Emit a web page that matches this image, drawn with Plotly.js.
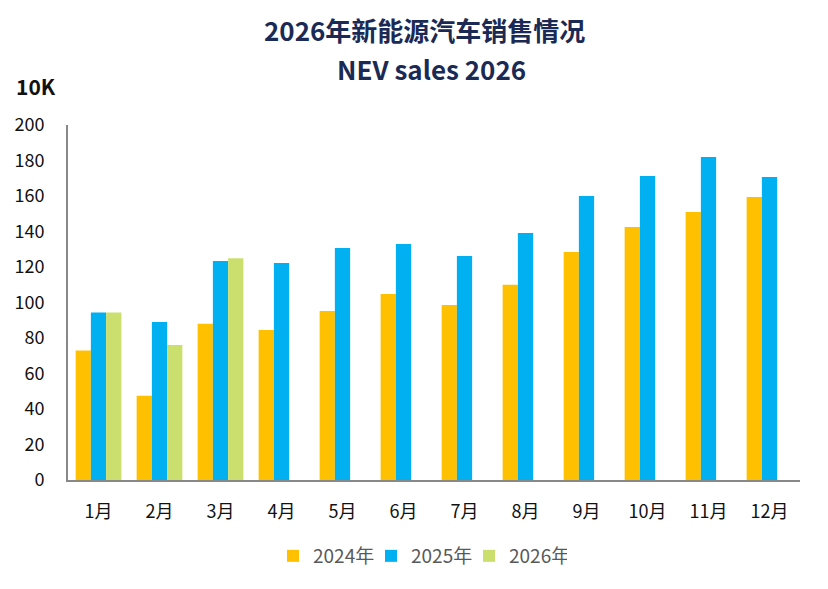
<!DOCTYPE html>
<html>
<head>
<meta charset="utf-8">
<script src="https://cdn.plot.ly/plotly-3.0.1.min.js"></script>
<style>html,body{margin:0;padding:0;background:#fff;}#chart{width:828px;height:589px;}</style>
</head>
<body>
<div id="chart"></div>
<script>
const months = ["1月","2月","3月","4月","5月","6月","7月","8月","9月","10月","11月","12月"];
const sales2024 = [73, 47.5, 88, 84.5, 95.2, 104.8, 98.6, 110, 128.5, 142.5, 151, 159.4];
const sales2025 = [94.3, 89, 123.4, 122.3, 130.7, 133, 126.2, 139.2, 160, 171.3, 182, 170.7];
const sales2026 = [94.3, 76, 125, null, null, null, null, null, null, null, null, null];
const seriesNames = ["2024年","2025年","2026年"];
const yTicks = [0,20,40,60,80,100,120,140,160,180,200];

const W = 828, H = 589;
const L = 68, R = 28, T = 125, B = 109;
const ph = H - T - B, pw = W - L - R;
const py = p => (H - B - p) / ph;
const px = p => (p - L) / pw;

const font = "'Noto Sans CJK SC', 'Noto Sans', sans-serif";
const colors = ["#FFC000", "#00B0F0", "#CADF6E"];

const data = [sales2024, sales2025, sales2026].map((v, i) => ({
  type: "bar", x: months, y: v, name: seriesNames[i],
  marker: {color: colors[i]}, hoverinfo: "x+y"
}));

const layout = {
  width: W, height: H,
  margin: {l: L, r: R, t: T, b: B, pad: 0},
  paper_bgcolor: "#fff", plot_bgcolor: "#fff",
  font: {family: font, color: "#111"},
  barmode: "group", bargap: 0.25, bargroupgap: 0,
  showlegend: true,
  legend: {orientation: "h", x: px(420), xanchor: "center", y: py(556), yanchor: "middle",
    font: {size: 19, color: "#595959", family: font}, itemwidth: 30, traceorder: "normal",
    entrywidth: 53, entrywidthmode: "pixels"},
  xaxis: {type: "category", showgrid: false, zeroline: false, showline: true,
    linecolor: "#888", linewidth: 2, ticks: "", tickfont: {size: 18, color: "#111"},
    ticklabelstandoff: 14, fixedrange: true},
  yaxis: {range: [0, 200], tickvals: yTicks, ticktext: yTicks.map(String),
    showgrid: false, zeroline: false, showline: true, linecolor: "#888", linewidth: 2,
    ticks: "", tickfont: {size: 18, color: "#111"}, ticklabelstandoff: 18, fixedrange: true},
  annotations: [
    {text: "<b>2026年新能源汽车销售情况</b>", xref: "paper", yref: "paper", x: px(424), y: py(30),
      xanchor: "center", yanchor: "middle", showarrow: false, font: {size: 26, color: "#1B2A55", family: font}},
    {text: "<b>NEV sales 2026</b>", xref: "paper", yref: "paper", x: px(431), y: py(68),
      xanchor: "center", yanchor: "middle", showarrow: false, font: {size: 26, color: "#1B2A55", family: font}},
    {text: "<b>10K</b>", xref: "paper", yref: "paper", x: px(14), y: py(86),
      xanchor: "left", yanchor: "middle", showarrow: false, font: {size: 21, color: "#111", family: font}}
  ]
};

Plotly.newPlot("chart", data, layout, {displayModeBar: false, staticPlot: true});
</script>
</body>
</html>
